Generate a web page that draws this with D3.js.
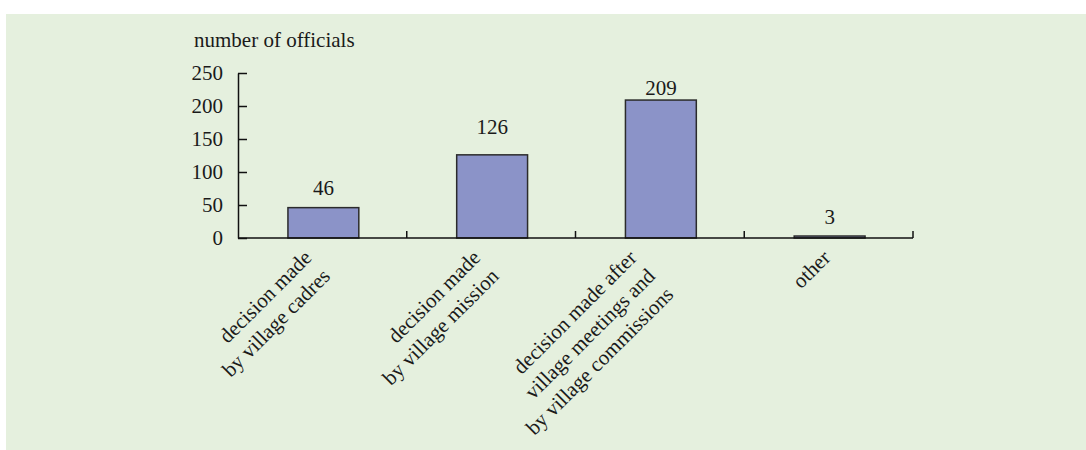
<!DOCTYPE html>
<html>
<head>
<meta charset="utf-8">
<script src="https://cdn.jsdelivr.net/npm/d3@7"></script>
<style>
  html, body { margin: 0; padding: 0; background: #ffffff; }
  svg { display: block; }
  text { font-family: "Liberation Serif", "Times New Roman", serif; fill: #1a1a1a; }
</style>
</head>
<body>
<script>
// Categories (each entry is the list of lines in the rotated axis label)
const categories = [
  ["decision made", "by village cadres"],
  ["decision made", "by village mission"],
  ["decision made after", "village meetings and", "by village commissions"],
  ["other"]
];
const values = [46, 126, 209, 3];
const yTicks = [0, 50, 100, 150, 200, 250];
const yTitle = "number of officials";

// layout: distance from bar top to each value label's baseline
const labelGap = [12.5, 21, 5, 12];

const W = 1086, H = 450;
const plot = { left: 238, right: 913, top: 73, bottom: 238 };

const svg = d3.select("body").append("svg")
  .attr("width", W).attr("height", H);

// panel background
svg.append("rect")
  .attr("x", 6).attr("y", 14)
  .attr("width", W - 6).attr("height", H - 14)
  .attr("fill", "#e5f0de");

const x = d3.scaleBand()
  .domain(d3.range(categories.length))
  .range([plot.left, plot.right])
  .paddingInner(0).paddingOuter(0);

const y = d3.scaleLinear()
  .domain([0, 250])
  .range([plot.bottom, plot.top]);

const barW = x.bandwidth() * 0.42;

// bars
svg.append("g").selectAll("rect")
  .data(values)
  .join("rect")
  .attr("x", (d, i) => x(i) + x.bandwidth() / 2 - barW / 2 + 1)
  .attr("y", d => y(d))
  .attr("width", barW)
  .attr("height", d => y(0) - y(d))
  .attr("fill", "#8b93c8")
  .attr("stroke", "#2b2b2b")
  .attr("stroke-width", 1.5);

// value labels
svg.append("g").selectAll("text")
  .data(values)
  .join("text")
  .attr("x", (d, i) => x(i) + x.bandwidth() / 2 + 1)
  .attr("y", (d, i) => y(d) - labelGap[i])
  .attr("text-anchor", "middle")
  .attr("font-size", 21)
  .text(d => d);

// y axis (ticks pointing into the plot)
const yAxis = d3.axisLeft(y).tickValues(yTicks).tickSizeInner(-9).tickSizeOuter(0).tickPadding(15);
const gy = svg.append("g").attr("transform", `translate(${plot.left},0)`).call(yAxis);
gy.select(".domain").attr("stroke", "#111").attr("stroke-width", 1.5);
gy.selectAll(".tick line").attr("stroke", "#111").attr("stroke-width", 1.5);
gy.selectAll(".tick text")
  .attr("font-size", 21)
  .attr("font-family", "Liberation Serif, serif")
  .attr("fill", "#1a1a1a");

// x axis: boundary ticks between categories, pointing up
const boundaries = d3.range(categories.length + 1).map(i => plot.left + i * x.step());
const gx = svg.append("g");
gx.append("line")
  .attr("x1", plot.left).attr("x2", plot.right)
  .attr("y1", y(0)).attr("y2", y(0))
  .attr("stroke", "#111").attr("stroke-width", 1.5);
gx.selectAll("line.tick")
  .data(boundaries.slice(1))
  .join("line")
  .attr("class", "tick")
  .attr("x1", d => d).attr("x2", d => d)
  .attr("y1", y(0)).attr("y2", y(0) - 7)
  .attr("stroke", "#111").attr("stroke-width", 1.5);

// rotated category labels
const lineStep = 26;
const labels = svg.append("g").selectAll("g")
  .data(categories)
  .join("g")
  .attr("transform", (d, i) => {
    const cx = x(i) + x.bandwidth() / 2;
    return `translate(${cx + 3 - (d.length - 1) * 12.5},${259}) rotate(-45)`;
  });
labels.append("text")
  .attr("text-anchor", "end")
  .attr("font-size", 21)
  .selectAll("tspan")
  .data(d => d)
  .join("tspan")
  .attr("x", 0)
  .attr("dy", (d, j) => j === 0 ? 0 : lineStep)
  .text(d => d);

// axis title
svg.append("text")
  .attr("x", 194).attr("y", 47)
  .attr("font-size", 21)
  .text(yTitle);
</script>
</body>
</html>
